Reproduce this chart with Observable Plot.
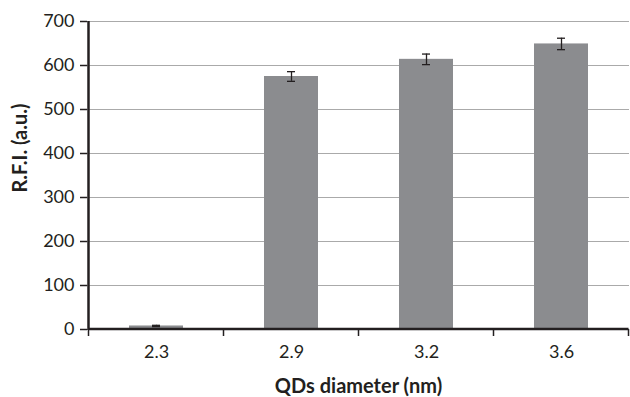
<!DOCTYPE html>
<html>
<head>
<meta charset="utf-8">
<script src="https://cdn.jsdelivr.net/npm/d3@7"></script>
<script src="https://cdn.jsdelivr.net/npm/@observablehq/plot@0.6"></script>
<style>
  html, body { margin: 0; padding: 0; background: #fff; }
  svg { display: block; }
</style>
</head>
<body>
<div id="chart"></div>
<script>
const categories = ["2.3", "2.9", "3.2", "3.6"];
const values = [8, 575, 614, 649];
const errors = [1.5, 11, 12, 13];
const yTicks = [0, 100, 200, 300, 400, 500, 600, 700];
const xTitle = "QDs diameter (nm)";
const yTitle = "R.F.I. (a.u.)";

const data = categories.map((c, i) => ({cat: c, value: values[i], err: errors[i]}));

const ink = "#231f20";
const paddingInner = 0.6;

// Axis lines + band-boundary ticks, computed from the scales
function axesMark(index, scales) {
  const x = scales.x, y = scales.y;
  const step = x(categories[1]) - x(categories[0]);
  const bw = step * (1 - paddingInner);
  const g = d3.create("svg:g");
  const y0 = y(0);
  const edges = categories.map(c => x(c) + bw / 2 - step / 2);
  edges.push(x(categories[categories.length - 1]) + bw / 2 + step / 2);
  for (const e of edges) {
    g.append("line").attr("x1", e).attr("x2", e).attr("y1", y0).attr("y2", y0 + 7)
      .attr("stroke", ink).attr("stroke-width", 1.5);
  }
  const left = edges[0], right = edges[edges.length - 1];
  g.append("line").attr("x1", left).attr("x2", right)
    .attr("y1", y0).attr("y2", y0).attr("stroke", ink).attr("stroke-width", 2.5);
  g.append("line").attr("x1", left).attr("x2", left)
    .attr("y1", y(yTicks[yTicks.length - 1])).attr("y2", y0 + 1).attr("stroke", ink).attr("stroke-width", 2.5);
  return g.node();
}

const chart = Plot.plot({
  width: 630,
  height: 397,
  marginLeft: 87,
  marginRight: 1,
  marginTop: 21,
  marginBottom: 68,
  style: {fontFamily: "Lato, 'Open Sans', sans-serif", color: ink, background: "#fff"},
  x: {domain: categories, paddingInner: paddingInner, paddingOuter: 0.3, label: null},
  y: {domain: [0, 700], label: null},
  marks: [
    Plot.gridY(yTicks, {stroke: "#aaaaaa", strokeOpacity: 1, strokeWidth: 1}),
    Plot.barY(data, {x: "cat", y: "value", fill: "#8b8c8f"}),
    Plot.ruleX(data, {x: "cat", y1: d => d.value - d.err, y2: d => d.value + d.err, stroke: ink, strokeWidth: 1.3}),
    Plot.tickY(data, {x: "cat", y: d => d.value - d.err, stroke: ink, strokeWidth: 1.3, insetLeft: 23, insetRight: 23}),
    Plot.tickY(data, {x: "cat", y: d => d.value + d.err, stroke: ink, strokeWidth: 1.3, insetLeft: 23, insetRight: 23}),
    Plot.axisY(yTicks, {tickSize: 7, tickPadding: 6, fontSize: 18, label: null, stroke: ink, strokeWidth: 1.5, fill: ink}),
    Plot.axisX({tickSize: 0, tickPadding: 16, fontSize: 18, label: null, fill: ink}),
    axesMark,
    Plot.text([xTitle], {frameAnchor: "bottom", dy: 63, fontSize: 20, fontWeight: "bold", fill: ink}),
    Plot.text([yTitle], {frameAnchor: "left", dx: -67, dy: 17, rotate: -90, fontSize: 20, fontWeight: "bold", fill: ink})
  ]
});

document.getElementById("chart").appendChild(chart);
</script>
</body>
</html>
